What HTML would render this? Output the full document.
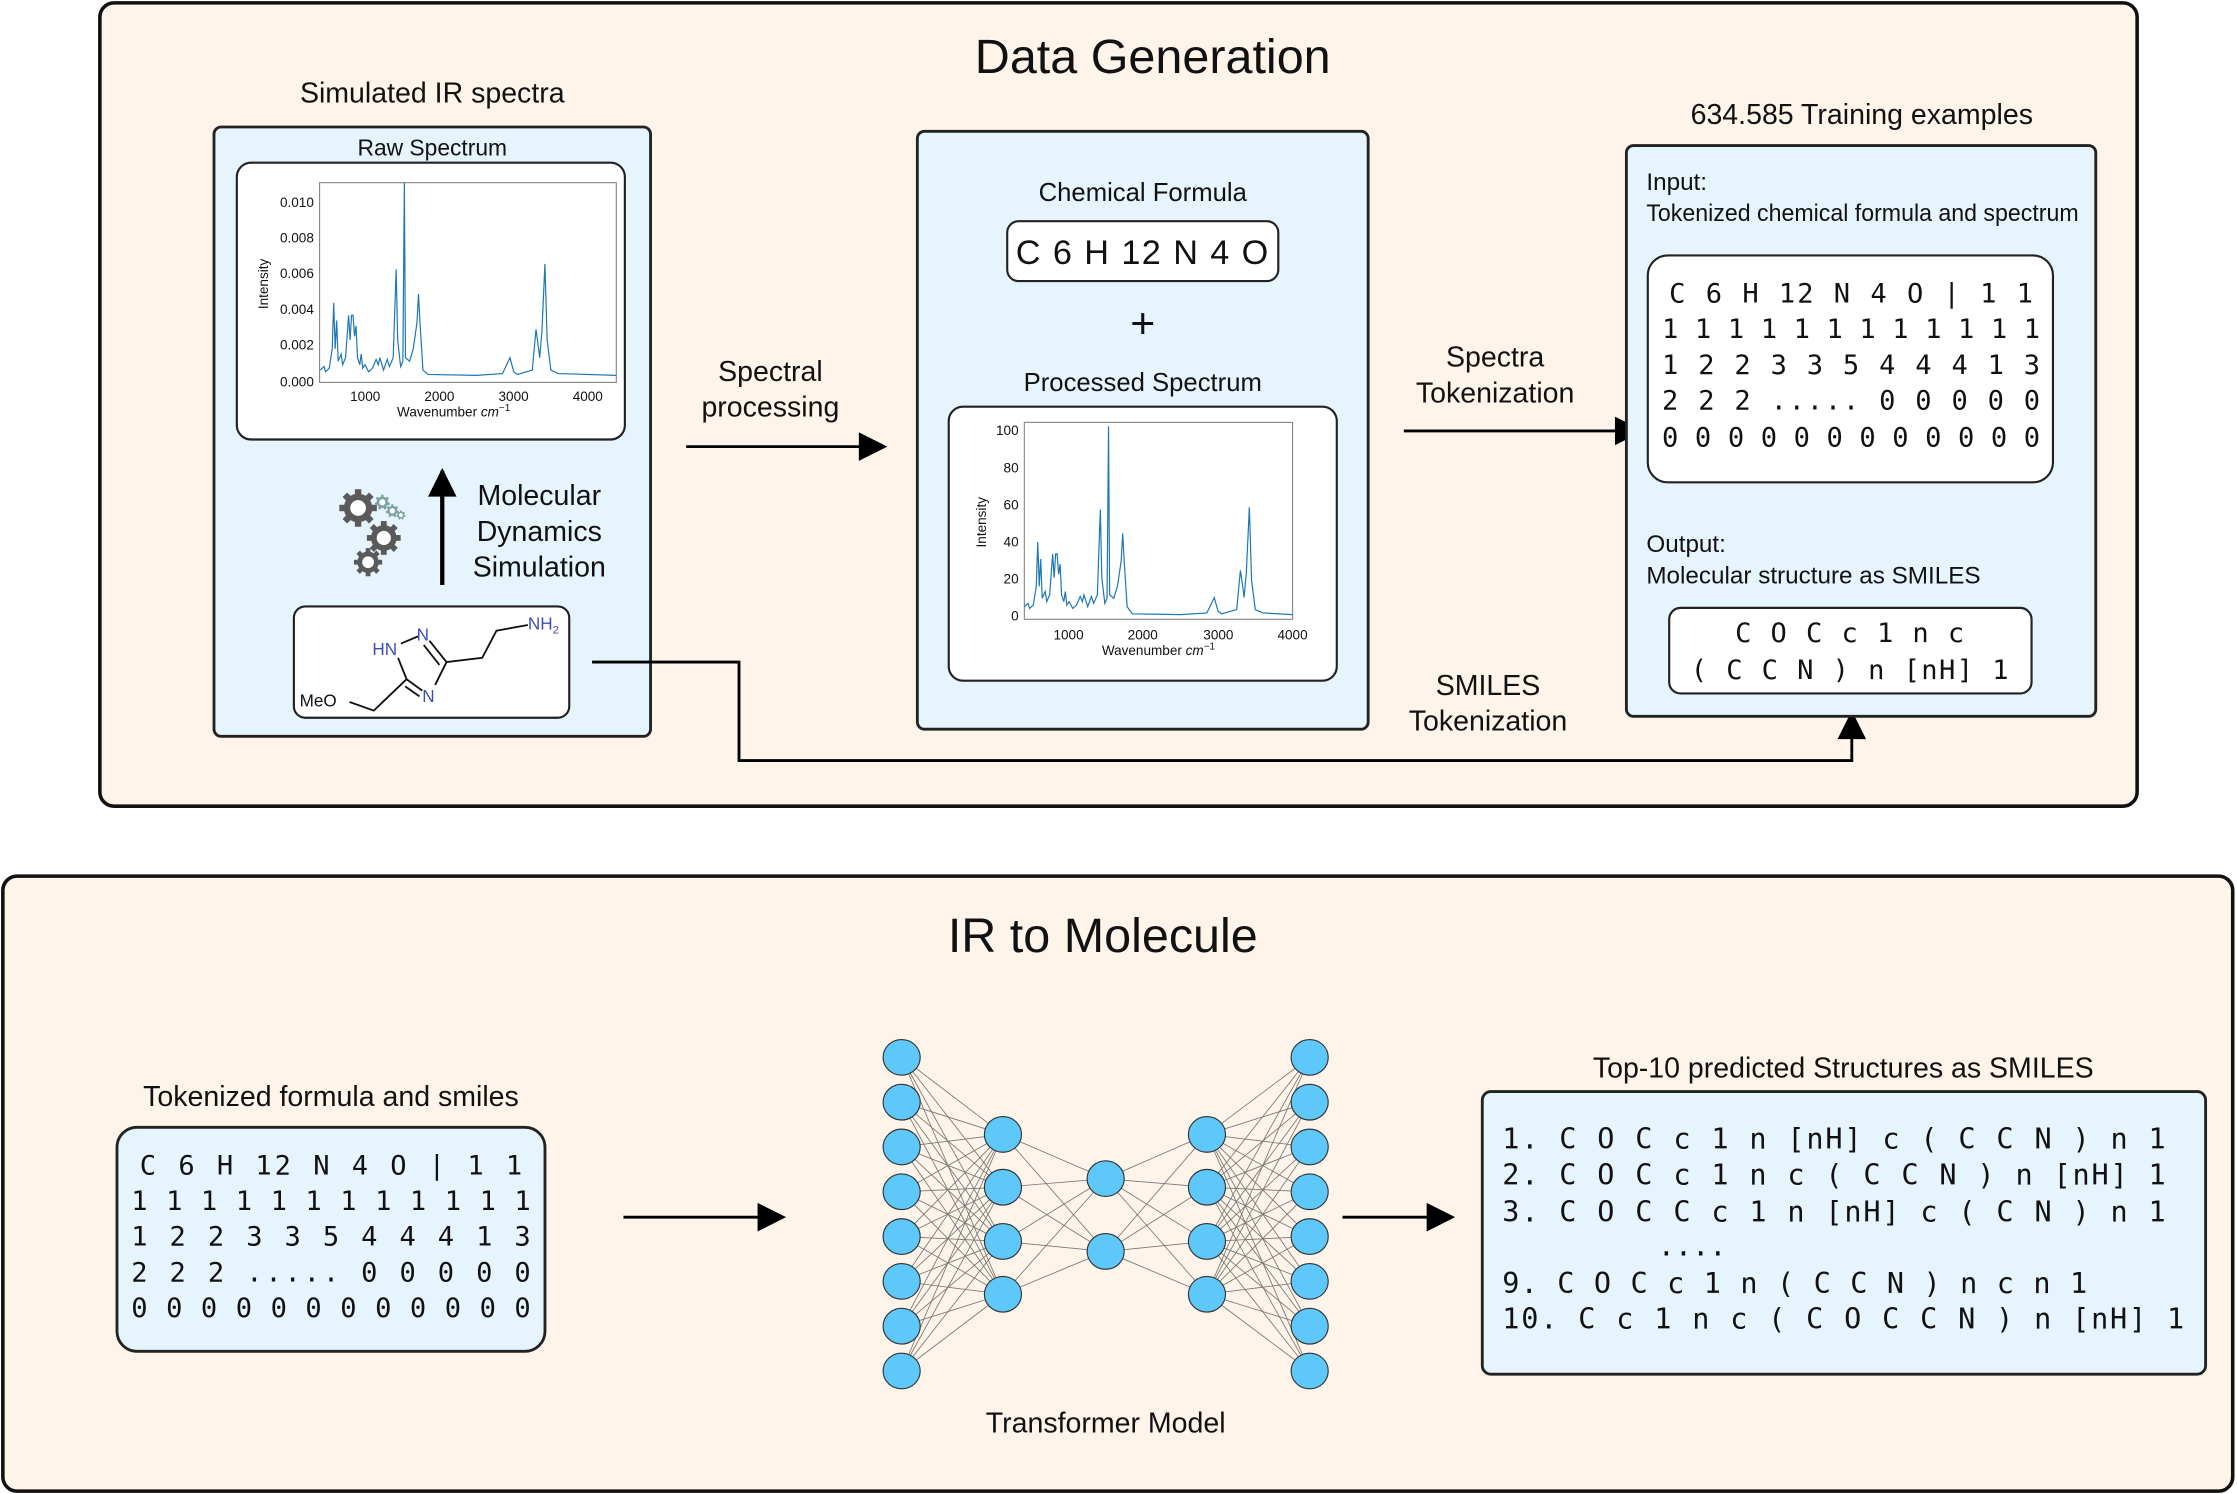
<!DOCTYPE html>
<html><head><meta charset="utf-8">
<style>
html,body{margin:0;padding:0;background:#fff;}
svg{display:block;}
text{font-family:"Liberation Sans","DejaVu Sans",sans-serif;fill:#111;}
.m{font-family:"DejaVu Sans Mono","Liberation Mono",monospace;}
</style></head>
<body>
<svg id="s" width="2237" height="1494" viewBox="0 0 1568 1047" preserveAspectRatio="none" xmlns="http://www.w3.org/2000/svg">
<defs>
<marker id="arL" viewBox="0 0 10 10" refX="9" refY="5" markerWidth="26" markerHeight="20" markerUnits="userSpaceOnUse" orient="auto">
<path d="M0,0 L10,5 L0,10 z" fill="#000"/></marker>
</defs>
<rect width="1568" height="1047" fill="#fff"/>
<rect x="70" y="2" width="1428" height="563" rx="10" fill="#fef4ea" stroke="#111" stroke-width="2.5"/>
<text x="808" y="51" font-size="34" text-anchor="middle">Data Generation</text>
<text x="303" y="72" font-size="20" text-anchor="middle">Simulated IR spectra</text>
<rect x="150" y="89" width="306" height="427" rx="5" fill="#e6f4fd" stroke="#222" stroke-width="2"/>
<text x="303" y="109" font-size="16" text-anchor="middle">Raw Spectrum</text>
<rect x="166" y="114" width="272" height="194" rx="10" fill="#fff" stroke="#222" stroke-width="1.5"/>
<rect x="224" y="128" width="208" height="140" fill="none" stroke="#888" stroke-width="0.8"/>
<g font-size="9.5" text-anchor="end">
<text x="220" y="271">0.000</text><text x="220" y="245">0.002</text><text x="220" y="220">0.004</text>
<text x="220" y="195">0.006</text><text x="220" y="170">0.008</text><text x="220" y="145">0.010</text></g>
<g font-size="9.5" text-anchor="middle">
<text x="256" y="281">1000</text><text x="308" y="281">2000</text><text x="360" y="281">3000</text><text x="412" y="281">4000</text>
<text x="318" y="292">Wavenumber <tspan font-style="italic">cm</tspan><tspan font-size="7" dy="-4">−1</tspan></text></g>
<text transform="translate(188,199) rotate(-90)" font-size="9.5" text-anchor="middle">Intensity</text>
<svg x="224" y="128" width="208" height="140" viewBox="390 -10.9 3990 11.3" preserveAspectRatio="none">
<polyline id="raw" fill="none" stroke="#1f77b4" stroke-width="1.2" vector-effect="non-scaling-stroke"/></svg>

<g id="gears"></g>
<line x1="310" y1="410" x2="310" y2="330" stroke="#000" stroke-width="3" marker-end="url(#arL)"/>
<g font-size="20" text-anchor="middle"><text x="378" y="354">Molecular</text><text x="378" y="379">Dynamics</text><text x="378" y="404">Simulation</text></g>

<rect x="206" y="425" width="193" height="78" rx="8" fill="#fff" stroke="#222" stroke-width="1.5"/>
<g stroke="#111" stroke-width="1.3" fill="none">
<line x1="281" y1="451" x2="293" y2="446"/>
<line x1="301" y1="449" x2="313" y2="464"/><line x1="297" y1="452" x2="308" y2="466"/>
<line x1="313" y1="464" x2="305" y2="480"/>
<line x1="296" y1="484" x2="285" y2="476"/><line x1="294" y1="488" x2="284" y2="481"/>
<line x1="285" y1="476" x2="279" y2="461"/>
<polyline points="313,464 338,461 348,442 370,438"/>
<polyline points="285,476 262,498 245,492"/>
</g>
<g font-size="12">
<text x="261" y="459" fill="#3a4fb0" style="fill:#3a4fb0">HN</text><text x="292" y="449" style="fill:#3a4fb0">N</text>
<text x="296" y="492" style="fill:#3a4fb0">N</text><text x="370" y="441" style="fill:#3a4fb0">NH<tspan font-size="8" dy="3">2</tspan></text></g>
<text x="210" y="495" font-size="12">MeO</text>

<polyline points="415,464 518,464 518,533 1298,533 1298,500" fill="none" stroke="#000" stroke-width="2" marker-end="url(#arL)"/>

<g font-size="20" text-anchor="middle"><text x="540" y="267">Spectral</text><text x="540" y="292">processing</text></g>
<line x1="481" y1="313" x2="620" y2="313" stroke="#000" stroke-width="2" marker-end="url(#arL)"/>

<rect x="643" y="92" width="316" height="419" rx="5" fill="#e6f4fd" stroke="#222" stroke-width="2"/>
<text x="801" y="141" font-size="18" text-anchor="middle">Chemical Formula</text>
<rect x="706" y="155" width="190" height="42" rx="8" fill="#fff" stroke="#222" stroke-width="1.5"/>
<text x="801" y="185" font-size="24" text-anchor="middle" letter-spacing="1">C 6 H 12 N 4 O</text>
<text x="801" y="237" font-size="30" text-anchor="middle">+</text>
<text x="801" y="274" font-size="18" text-anchor="middle">Processed Spectrum</text>
<rect x="665" y="285" width="272" height="192" rx="10" fill="#fff" stroke="#222" stroke-width="1.5"/>
<rect x="718" y="296" width="188" height="138" fill="none" stroke="#888" stroke-width="0.8"/>
<g font-size="9.5" text-anchor="end">
<text x="714" y="435">0</text><text x="714" y="409">20</text><text x="714" y="383">40</text>
<text x="714" y="357">60</text><text x="714" y="331">80</text><text x="714" y="305">100</text></g>
<g font-size="9.5" text-anchor="middle">
<text x="749" y="448">1000</text><text x="801" y="448">2000</text><text x="854" y="448">3000</text><text x="906" y="448">4000</text>
<text x="812" y="459">Wavenumber <tspan font-style="italic">cm</tspan><tspan font-size="7" dy="-4">−1</tspan></text></g>
<text transform="translate(691,366) rotate(-90)" font-size="9.5" text-anchor="middle">Intensity</text>
<svg x="718" y="296" width="188" height="138" viewBox="400 -104 3600 106" preserveAspectRatio="none">
<polyline id="proc" fill="none" stroke="#1f77b4" stroke-width="1.2" vector-effect="non-scaling-stroke"/></svg>

<g font-size="20" text-anchor="middle"><text x="1048" y="257">Spectra</text><text x="1048" y="282">Tokenization</text></g>
<line x1="984" y1="302" x2="1150" y2="302" stroke="#000" stroke-width="2" marker-end="url(#arL)"/>
<g font-size="20" text-anchor="middle"><text x="1043" y="487">SMILES</text><text x="1043" y="512">Tokenization</text></g>

<text x="1305" y="87" font-size="20" text-anchor="middle">634.585 Training examples</text>
<rect x="1140" y="102" width="329" height="400" rx="5" fill="#e6f4fd" stroke="#222" stroke-width="2"/>
<text x="1154" y="133" font-size="17">Input:</text>
<text x="1154" y="155" font-size="17" textLength="303" lengthAdjust="spacingAndGlyphs">Tokenized chemical formula and spectrum</text>
<rect x="1155" y="179" width="284" height="159" rx="14" fill="#fff" stroke="#222" stroke-width="1.5"/>
<g class="m" font-size="19">
<text class="m" x="1170" y="212" textLength="255" lengthAdjust="spacing">C 6 H 12 N 4 O | 1 1</text>
<text class="m" x="1165" y="237" textLength="265" lengthAdjust="spacing">1 1 1 1 1 1 1 1 1 1 1 1</text>
<text class="m" x="1165" y="262" textLength="265" lengthAdjust="spacing">1 2 2 3 3 5 4 4 4 1 3</text>
<text class="m" x="1165" y="287" textLength="265" lengthAdjust="spacing">2 2 2 ..... 0 0 0 0 0</text>
<text class="m" x="1165" y="313" textLength="265" lengthAdjust="spacing">0 0 0 0 0 0 0 0 0 0 0 0</text></g>
<text x="1154" y="387" font-size="17">Output:</text>
<text x="1154" y="409" font-size="17">Molecular structure as SMILES</text>
<rect x="1170" y="426" width="254" height="60" rx="8" fill="#fff" stroke="#222" stroke-width="1.5"/>
<text class="m" x="1297" y="450" font-size="19" text-anchor="middle" letter-spacing="1">C O C c 1 n c</text>
<text class="m" x="1297" y="476" font-size="19" text-anchor="middle" letter-spacing="1">( C C N ) n [nH] 1</text>

<rect x="2" y="614" width="1563" height="431" rx="10" fill="#fef4ea" stroke="#111" stroke-width="2.5"/>
<text x="773" y="667" font-size="34" text-anchor="middle">IR to Molecule</text>
<text x="232" y="775" font-size="20" text-anchor="middle">Tokenized formula and smiles</text>
<rect x="82" y="790" width="300" height="157" rx="14" fill="#e6f4fd" stroke="#222" stroke-width="2"/>
<g>
<text class="m" x="98" y="823" font-size="19" textLength="268" lengthAdjust="spacing">C 6 H 12 N 4 O | 1 1</text>
<text class="m" x="92" y="848" font-size="19" textLength="280" lengthAdjust="spacing">1 1 1 1 1 1 1 1 1 1 1 1</text>
<text class="m" x="92" y="873" font-size="19" textLength="280" lengthAdjust="spacing">1 2 2 3 3 5 4 4 4 1 3</text>
<text class="m" x="92" y="898" font-size="19" textLength="280" lengthAdjust="spacing">2 2 2 ..... 0 0 0 0 0</text>
<text class="m" x="92" y="923" font-size="19" textLength="280" lengthAdjust="spacing">0 0 0 0 0 0 0 0 0 0 0 0</text></g>
<line x1="437" y1="853" x2="549" y2="853" stroke="#000" stroke-width="2" marker-end="url(#arL)"/>
<g id="nn"></g>
<text x="775" y="1004" font-size="20" text-anchor="middle">Transformer Model</text>
<line x1="941" y1="853" x2="1018" y2="853" stroke="#000" stroke-width="2" marker-end="url(#arL)"/>
<text x="1292" y="755" font-size="20" text-anchor="middle">Top-10 predicted Structures as SMILES</text>
<rect x="1039" y="765" width="507" height="198" rx="6" fill="#e6f4fd" stroke="#222" stroke-width="2"/>
<g font-size="20">
<text class="m" x="1053" y="805" textLength="465" lengthAdjust="spacing">1. C O C c 1 n [nH] c ( C C N ) n 1</text>
<text class="m" x="1053" y="830" textLength="465" lengthAdjust="spacing">2. C O C c 1 n c ( C C N ) n [nH] 1</text>
<text class="m" x="1053" y="856" textLength="465" lengthAdjust="spacing">3. C O C C c 1 n [nH] c ( C N ) n 1</text>
<text class="m" x="1162" y="880" font-size="20">....</text>
<text class="m" x="1053" y="906" textLength="410" lengthAdjust="spacing">9. C O C c 1 n ( C C N ) n c n 1</text>
<text class="m" x="1053" y="931" textLength="478" lengthAdjust="spacing">10. C c 1 n c ( C O C C N ) n [nH] 1</text></g>
</svg>
<script>
var NS="http://www.w3.org/2000/svg";
function el(t,a,p){var e=document.createElementNS(NS,t);for(var k in a)e.setAttribute(k,a[k]);p.appendChild(e);return e;}
var raw=[[400,.3],[450,.5],[470,.2],[520,.4],[560,1.5],[580,4.1],[600,1.5],[620,3.1],[640,.8],[680,1.2],[700,.6],[740,1.0],[780,3.4],[800,2.0],[820,3.4],[840,3.4],[860,2.2],[880,2.8],[900,1.0],[930,.6],[950,1.2],[970,.4],[1000,.6],[1050,.2],[1100,.4],[1150,.9],[1180,.6],[1200,1.0],[1250,.3],[1300,.9],[1330,.5],[1380,1.0],[1420,6.0],[1440,2.0],[1480,.5],[1510,.8],[1530,10.9],[1545,1.0],[1600,.8],[1650,1.5],[1700,3.0],[1720,4.6],[1740,3.0],[1780,.3],[1850,.05],[2500,0],[2850,.1],[2950,1.0],[3000,.2],[3050,.05],[3250,.3],[3300,2.6],[3320,2.0],[3350,1.0],[3380,2.5],[3420,6.3],[3450,2.0],[3500,.3],[3600,.1],[4380,0]];
document.getElementById("raw").setAttribute("points",raw.map(function(p){return p[0]+","+(-p[1]);}).join(" "));
var pr=raw.map(function(p){return Math.min(p[0],4000)+","+(-(p[1]/10.9*100+(p[0]<1800?2:0.5)));});
document.getElementById("proc").setAttribute("points",pr.join(" "));
var g=document.getElementById("gears");
function gear(cx,cy,r,c,teeth){var t=r*0.45;for(var i=0;i<teeth;i++){var a=i*360/teeth;
 el("rect",{x:cx-t/2,y:cy-r-t*0.7,width:t,height:t*1.4,fill:c,transform:"rotate("+a+" "+cx+" "+cy+")"},g);}
 el("circle",{cx:cx,cy:cy,r:r,fill:c},g);el("circle",{cx:cx,cy:cy,r:r*0.55,fill:"#fff"},g);}
gear(251,356,10,"#5a5a5a",8);gear(269,377,9,"#5a5a5a",8);gear(258,394,7.5,"#5a5a5a",8);
gear(268,352,4,"#7aa3a0",7);gear(275,358,3.5,"#7aa3a0",7);gear(281,361,2.5,"#7aa3a0",7);
var nn=document.getElementById("nn");
var cols=[[632,[]],[703,[795,832,870,907]],[775,[826,877]],[846,[795,832,870,907]],[918,[]]];
for(var i=0;i<8;i++){var y=741+i*31.4;cols[0][1].push(y);cols[4][1].push(y);}
for(var c=0;c<4;c++){cols[c][1].forEach(function(y1){cols[c+1][1].forEach(function(y2){
 el("line",{x1:cols[c][0],y1:y1,x2:cols[c+1][0],y2:y2,stroke:"#777","stroke-width":0.6},nn);});});}
cols.forEach(function(cc){cc[1].forEach(function(y){el("ellipse",{cx:cc[0],cy:y,rx:13,ry:12.5,fill:"#5ec8fb",stroke:"#333","stroke-width":0.8},nn);});});
</script>
</body></html>
